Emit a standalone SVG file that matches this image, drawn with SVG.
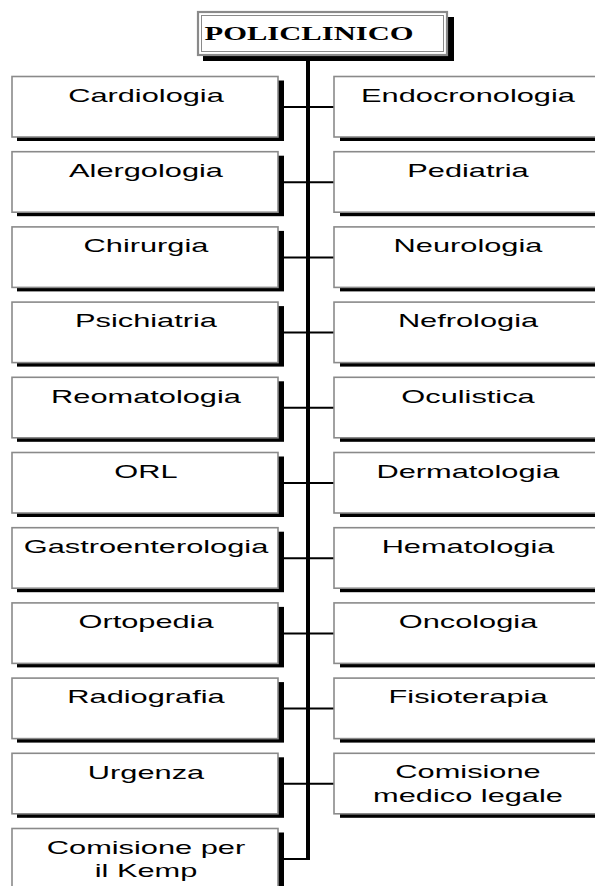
<svg xmlns="http://www.w3.org/2000/svg" width="595" height="886" viewBox="0 0 595 886">
<style>
.sh{fill:#000}
.bx{fill:#fff;stroke:#8a8a8a;stroke-width:1.6}
.t{font-family:"Liberation Sans",Arial,sans-serif;font-size:19px;fill:#000;text-anchor:middle}
.title{font-family:"Liberation Serif","Times New Roman",serif;font-size:18px;font-weight:bold;fill:#000;text-anchor:middle}
.ln{stroke:#000;fill:none}
</style>
<rect width="595" height="886" fill="#fff"/>
<g id="connectors">
<line class="ln" x1="308" y1="60" x2="308" y2="860" stroke-width="4"/>
<g stroke-width="2" class="ln">
<line x1="284" y1="107" x2="334" y2="107"/>
<line x1="284" y1="182.2" x2="334" y2="182.2"/>
<line x1="284" y1="257.4" x2="334" y2="257.4"/>
<line x1="284" y1="332.6" x2="334" y2="332.6"/>
<line x1="284" y1="407.8" x2="334" y2="407.8"/>
<line x1="284" y1="483" x2="334" y2="483"/>
<line x1="284" y1="558.2" x2="334" y2="558.2"/>
<line x1="284" y1="633.4" x2="334" y2="633.4"/>
<line x1="284" y1="708.6" x2="334" y2="708.6"/>
<line x1="284" y1="783.8" x2="334" y2="783.8"/>
<line x1="284" y1="859" x2="310" y2="859"/>
</g>
</g>
<g id="policlinico">
<rect class="sh" x="203" y="17" width="251" height="44"/>
<rect x="198" y="12" width="249" height="43" fill="#fff" stroke="#8a8a8a" stroke-width="2.2"/>
<rect x="201.5" y="15.5" width="242" height="36" fill="none" stroke="#8a8a8a" stroke-width="1"/>
<text class="title" transform="translate(309,40) scale(1.7,1)">POLICLINICO</text>
</g>
<g id="cardiologia"><rect class="sh" x="17" y="80.5" width="267" height="60.5"/><rect class="bx" x="12" y="76.5" width="266" height="60.5"/><text class="t" transform="translate(146,101.8) scale(1.62,1)">Cardiologia</text></g>
<g id="alergologia"><rect class="sh" x="17" y="155.7" width="267" height="60.5"/><rect class="bx" x="12" y="151.7" width="266" height="60.5"/><text class="t" transform="translate(146,177) scale(1.62,1)">Alergologia</text></g>
<g id="chirurgia"><rect class="sh" x="17" y="230.9" width="267" height="60.5"/><rect class="bx" x="12" y="226.9" width="266" height="60.5"/><text class="t" transform="translate(146,252.2) scale(1.62,1)">Chirurgia</text></g>
<g id="psichiatria"><rect class="sh" x="17" y="306.1" width="267" height="60.5"/><rect class="bx" x="12" y="302.1" width="266" height="60.5"/><text class="t" transform="translate(146,327.4) scale(1.62,1)">Psichiatria</text></g>
<g id="reomatologia"><rect class="sh" x="17" y="381.3" width="267" height="60.5"/><rect class="bx" x="12" y="377.3" width="266" height="60.5"/><text class="t" transform="translate(146,402.6) scale(1.62,1)">Reomatologia</text></g>
<g id="orl"><rect class="sh" x="17" y="456.5" width="267" height="60.5"/><rect class="bx" x="12" y="452.5" width="266" height="60.5"/><text class="t" transform="translate(146,477.8) scale(1.62,1)">ORL</text></g>
<g id="gastroenterologia"><rect class="sh" x="17" y="531.7" width="267" height="60.5"/><rect class="bx" x="12" y="527.7" width="266" height="60.5"/><text class="t" transform="translate(146,553) scale(1.62,1)">Gastroenterologia</text></g>
<g id="ortopedia"><rect class="sh" x="17" y="606.9" width="267" height="60.5"/><rect class="bx" x="12" y="602.9" width="266" height="60.5"/><text class="t" transform="translate(146,628.2) scale(1.62,1)">Ortopedia</text></g>
<g id="radiografia"><rect class="sh" x="17" y="682.1" width="267" height="60.5"/><rect class="bx" x="12" y="678.1" width="266" height="60.5"/><text class="t" transform="translate(146,703.4) scale(1.62,1)">Radiografia</text></g>
<g id="urgenza"><rect class="sh" x="17" y="757.3" width="267" height="60.5"/><rect class="bx" x="12" y="753.3" width="266" height="60.5"/><text class="t" transform="translate(146,778.6) scale(1.62,1)">Urgenza</text></g>
<g id="comisione-kemp"><rect class="sh" x="17" y="832.5" width="267" height="60.5"/><rect class="bx" x="12" y="828.5" width="266" height="60.5"/><text class="t" transform="translate(146,853.5) scale(1.62,1)">Comisione per</text><text class="t" transform="translate(146,877) scale(1.62,1)">il Kemp</text></g>
<g id="endocronologia"><rect class="sh" x="340" y="80.5" width="280" height="60.5"/><rect class="bx" x="334" y="76.5" width="280" height="60.5"/><text class="t" transform="translate(468,101.8) scale(1.62,1)">Endocronologia</text></g>
<g id="pediatria"><rect class="sh" x="340" y="155.7" width="280" height="60.5"/><rect class="bx" x="334" y="151.7" width="280" height="60.5"/><text class="t" transform="translate(468,177) scale(1.62,1)">Pediatria</text></g>
<g id="neurologia"><rect class="sh" x="340" y="230.9" width="280" height="60.5"/><rect class="bx" x="334" y="226.9" width="280" height="60.5"/><text class="t" transform="translate(468,252.2) scale(1.62,1)">Neurologia</text></g>
<g id="nefrologia"><rect class="sh" x="340" y="306.1" width="280" height="60.5"/><rect class="bx" x="334" y="302.1" width="280" height="60.5"/><text class="t" transform="translate(468,327.4) scale(1.62,1)">Nefrologia</text></g>
<g id="oculistica"><rect class="sh" x="340" y="381.3" width="280" height="60.5"/><rect class="bx" x="334" y="377.3" width="280" height="60.5"/><text class="t" transform="translate(468,402.6) scale(1.62,1)">Oculistica</text></g>
<g id="dermatologia"><rect class="sh" x="340" y="456.5" width="280" height="60.5"/><rect class="bx" x="334" y="452.5" width="280" height="60.5"/><text class="t" transform="translate(468,477.8) scale(1.62,1)">Dermatologia</text></g>
<g id="hematologia"><rect class="sh" x="340" y="531.7" width="280" height="60.5"/><rect class="bx" x="334" y="527.7" width="280" height="60.5"/><text class="t" transform="translate(468,553) scale(1.62,1)">Hematologia</text></g>
<g id="oncologia"><rect class="sh" x="340" y="606.9" width="280" height="60.5"/><rect class="bx" x="334" y="602.9" width="280" height="60.5"/><text class="t" transform="translate(468,628.2) scale(1.62,1)">Oncologia</text></g>
<g id="fisioterapia"><rect class="sh" x="340" y="682.1" width="280" height="60.5"/><rect class="bx" x="334" y="678.1" width="280" height="60.5"/><text class="t" transform="translate(468,703.4) scale(1.62,1)">Fisioterapia</text></g>
<g id="comisione-medico-legale"><rect class="sh" x="340" y="757.3" width="280" height="60.5"/><rect class="bx" x="334" y="753.3" width="280" height="60.5"/><text class="t" transform="translate(468,778.2) scale(1.62,1)">Comisione</text><text class="t" transform="translate(468,801.7) scale(1.62,1)">medico legale</text></g>
</svg>
